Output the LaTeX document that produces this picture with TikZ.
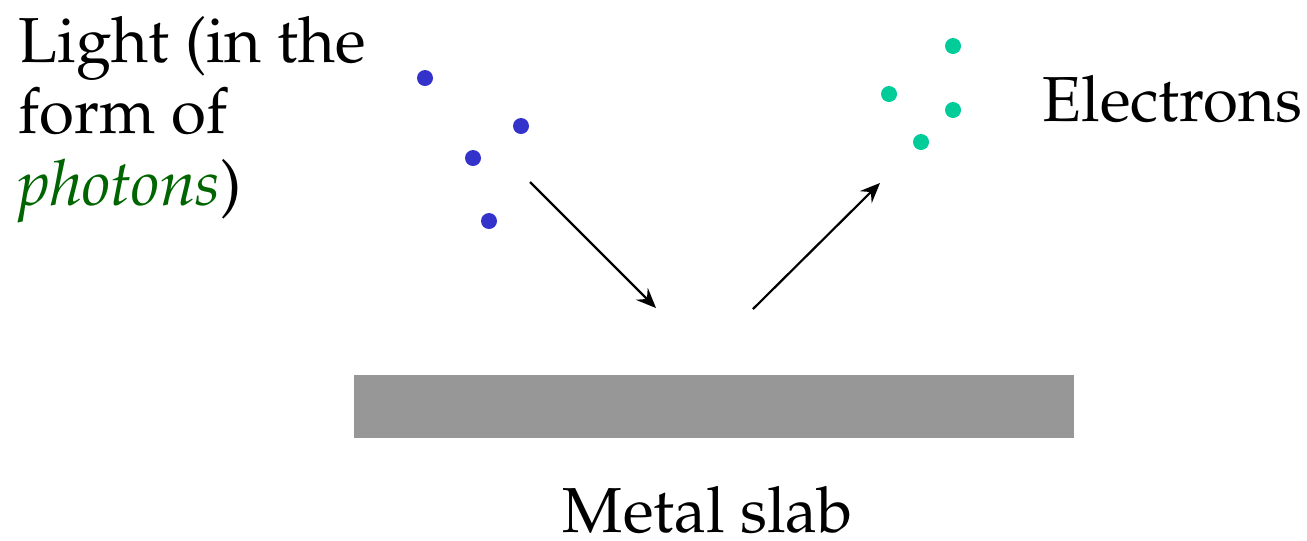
\documentclass[tikz,border=0pt]{standalone}
\usepackage[T1]{fontenc}
\usepackage{mathpazo}
\usetikzlibrary{arrows.meta}
\definecolor{photonblue}{RGB}{51,51,204}
\definecolor{electrongreen}{RGB}{0,204,153}
\definecolor{slabgray}{RGB}{151,151,151}
\definecolor{textgreen}{RGB}{0,100,0}
\tikzset{
  photon/.style={circle,fill=photonblue,inner sep=0pt,minimum size=4pt},
  electron/.style={circle,fill=electrongreen,inner sep=0pt,minimum size=4pt},
  label/.style={inner sep=0pt,font=\fontsize{15.9}{18}\selectfont},
  ray/.style={line width=0.55pt,-{Stealth[length=5pt,width=4.2pt,inset=1.8pt]}}
}
\begin{document}
\begin{tikzpicture}[x=0.25pt,y=-0.25pt]
\useasboundingbox (0,0) rectangle (1307,540);
% slab
\node[fill=slabgray,inner sep=0pt,minimum width=180pt,minimum height=15.75pt,anchor=north west] (slab) at (353,374) {};
\node[label,anchor=base] (slablbl) at (708,532) {Metal slab};
% left text
\node[label,anchor=base west] (l1) at (18,62) {Light (in the};
\node[label,anchor=base west] (l2) at (18,133.5) {form of};
\node[label,anchor=base west] (l3) at (18,205) {\textcolor{textgreen}{\textit{photons}})};
% right text
\node[label,anchor=base west] (el) at (1042,121) {Electrons};
% photons
\node[photon] (p1) at (425,78) {};
\node[photon] (p2) at (521,126) {};
\node[photon] (p3) at (473,158) {};
\node[photon] (p4) at (489,221) {};
% electrons
\node[electron] (e1) at (953,46) {};
\node[electron] (e2) at (889,94) {};
\node[electron] (e3) at (953,110) {};
\node[electron] (e4) at (921,142) {};
% arrows
\coordinate (a1s) at (530,182);
\coordinate (a1e) at (656,308);
\coordinate (a2s) at (753,309);
\coordinate (a2e) at (880,183);
\draw[ray] (a1s) -- (a1e);
\draw[ray] (a2s) -- (a2e);
\end{tikzpicture}
\end{document}
